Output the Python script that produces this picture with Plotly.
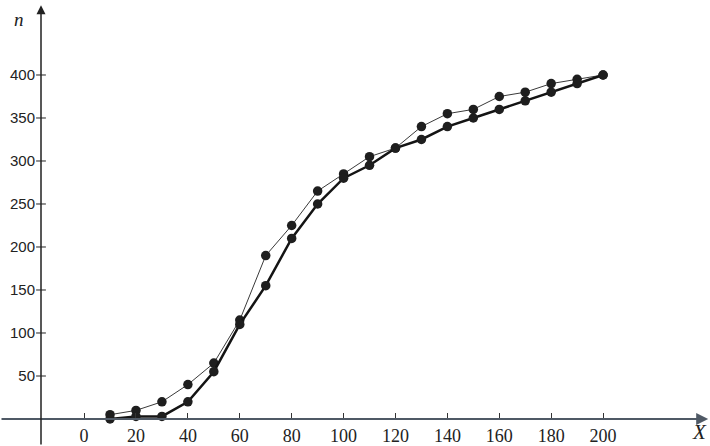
import plotly.graph_objects as go

# Sample sizes X and the two cumulative count curves n(X)
X = [10, 20, 30, 40, 50, 60, 70, 80, 90, 100,
     110, 120, 130, 140, 150, 160, 170, 180, 190, 200]
N_THIN = [5, 10, 20, 40, 65, 115, 190, 225, 265, 285,
          305, 315, 340, 355, 360, 375, 380, 390, 395, 400]
N_THICK = [0, 3, 3, 20, 55, 110, 155, 210, 250, 280,
           295, 315, 325, 340, 350, 360, 370, 380, 390, 400]

X_TICKS = [0, 20, 40, 60, 80, 100, 120, 140, 160, 180, 200]
Y_TICKS = [50, 100, 150, 200, 250, 300, 350, 400]

X_RANGE = [-32.4, 241.2]
Y_RANGE = [-31.4, 487.2]
Y_AXIS_AT = -16.6          # x position of the vertical axis
X_ARROW_TIP = 240.5
Y_ARROW_TIP = 481

W, H = 710, 446
AXIS_COLOR = "#222222"

fig = go.Figure()

fig.add_trace(go.Scatter(
    x=X, y=N_THIN, mode="lines+markers",
    line=dict(color="#3a3a3a", width=1),
    marker=dict(color="#1e1e1e", size=9.5),
    showlegend=False, hoverinfo="skip",
))
fig.add_trace(go.Scatter(
    x=X, y=N_THICK, mode="lines+markers",
    line=dict(color="#141414", width=2.5),
    marker=dict(color="#1e1e1e", size=9.5),
    showlegend=False, hoverinfo="skip",
))

# crossing tick marks on the vertical axis
fig.add_trace(go.Scatter(
    x=[Y_AXIS_AT] * len(Y_TICKS), y=Y_TICKS, mode="markers",
    marker=dict(symbol="line-ew", size=7, line=dict(color=AXIS_COLOR, width=1)),
    showlegend=False, hoverinfo="skip",
))

x_axis_pos = (0 - Y_RANGE[0]) / (Y_RANGE[1] - Y_RANGE[0])
y_axis_pos = (Y_AXIS_AT - X_RANGE[0]) / (X_RANGE[1] - X_RANGE[0])

fig.update_layout(
    width=W, height=H, autosize=False,
    margin=dict(l=0, r=0, t=0, b=0, pad=0),
    paper_bgcolor="white", plot_bgcolor="white",
    xaxis=dict(
        range=X_RANGE, domain=[0, 1], anchor="free", position=x_axis_pos,
        showgrid=False, zeroline=False, showline=False,
        tickmode="array", tickvals=X_TICKS, ticktext=[str(v) for v in X_TICKS],
        ticks="inside", ticklen=6, tickwidth=1, tickcolor="#333333",
        tickfont=dict(family="Liberation Serif", size=18, color="#222222"),
        ticklabelstandoff=4,
    ),
    yaxis=dict(
        range=Y_RANGE, domain=[0, 1], anchor="free", position=y_axis_pos,
        showgrid=False, zeroline=False, showline=False,
        tickmode="array", tickvals=Y_TICKS, ticktext=[str(v) for v in Y_TICKS],
        ticks="",
        tickfont=dict(family="Liberation Sans", size=15, color="#222222"),
        ticklabelstandoff=6,
    ),
    annotations=[
        # horizontal axis with arrow
        dict(x=X_ARROW_TIP, y=0, ax=X_RANGE[0], ay=0,
             xref="x", yref="y", axref="x", ayref="y",
             text="", showarrow=True, arrowhead=2, arrowsize=1.2,
             arrowwidth=2, arrowcolor="#4f5965"),
        # vertical axis with arrow
        dict(x=Y_AXIS_AT, y=Y_ARROW_TIP, ax=Y_AXIS_AT, ay=Y_RANGE[0],
             xref="x", yref="y", axref="x", ayref="y",
             text="", showarrow=True, arrowhead=2, arrowsize=1.2,
             arrowwidth=1.5, arrowcolor=AXIS_COLOR),
        dict(x=19 / W, y=1 - 19 / H, xref="paper", yref="paper",
             xanchor="center", yanchor="middle",
             text="<i>n</i>", showarrow=False,
             font=dict(family="Liberation Serif", size=19, color="#222222")),
        dict(x=699 / W, y=1 - 432 / H, xref="paper", yref="paper",
             xanchor="center", yanchor="middle",
             text="<i>X</i>", showarrow=False,
             font=dict(family="Liberation Serif", size=21, color="#222222")),
    ],
)

fig.write_html("out.html")
